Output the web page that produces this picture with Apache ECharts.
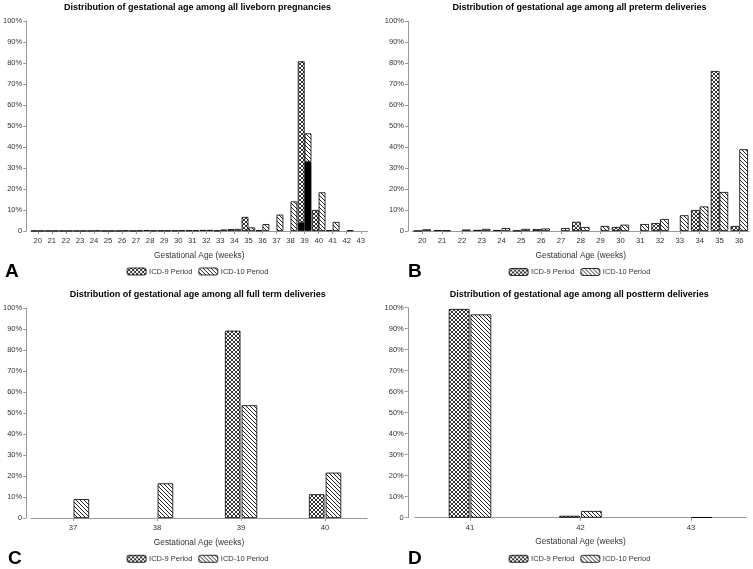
<!DOCTYPE html>
<html><head><meta charset="utf-8">
<script src="https://cdn.jsdelivr.net/npm/echarts@6/dist/echarts.min.js"></script>
<style>html,body{margin:0;padding:0;background:#fff}#c{width:753px;height:569px}</style>
</head><body><div id="c"></div>
<script>
// ---------- data ----------
const catsA = ['20','21','22','23','24','25','26','27','28','29','30','31','32','33','34','35','36','37','38','39','40','41','42','43'];
const icd9A  = [0.1,0.1,0.1,0.1,0.1,0.1,0.1,0.1,0.4,0.2,0.2,0.3,0.5,0.2,0.9,6.7,0.3,0,0,80.8,10.0,0.4,0,0];
const icd10A = [0.1,0.1,0.1,0.1,0.2,0.1,0.2,0.2,0.2,0.2,0.3,0.3,0.5,0.7,1.0,1.7,3.3,7.8,14.1,46.5,18.4,4.3,0.3,0];
const black9A  = ['-','-','-','-','-','-','-','-','-','-','-','-','-','-','-','-','-','-','-',4.0,'-','-','-','-'];
const black10A = ['-','-','-','-','-','-','-','-','-','-','-','-','-','-','-','-','-','-','-',33.0,'-','-','-','-'];

const catsB = ['20','21','22','23','24','25','26','27','28','29','30','31','32','33','34','35','36'];
const icd9B  = [0.1,0.4,0,0.5,0.4,0.2,0.9,0,4.4,0,1.9,0,3.8,0,10.0,76.3,2.4];
const icd10B = [0.8,0.3,0.7,1.0,1.4,1.0,1.2,1.4,1.9,2.4,3.0,3.3,5.7,7.5,11.7,18.6,39.0];

const catsC = ['37','38','39','40'];
const icd9C  = [0,0,89.2,11.3];
const icd10C = [9.0,16.5,53.7,21.6];

const catsD = ['41','42','43'];
const icd9D  = [99.4,0.9,0];
const icd10D = [96.8,3.2,0.2];

const yTicks = [0,10,20,30,40,50,60,70,80,90,100];
const titles = [
  'Distribution of gestational age among all liveborn pregnancies',
  'Distribution of gestational age among all preterm deliveries',
  'Distribution of gestational age among all full term deliveries',
  'Distribution of gestational age among all postterm deliveries'
];
const panelLetters = ['A','B','C','D'];
const S9 = 'ICD-9 Period', S10 = 'ICD-10 Period';

// ---------- patterns ----------
function makePattern(kind){
  const c = document.createElement('canvas');
  c.width = 4; c.height = 4;
  const ctx = c.getContext('2d');
  ctx.fillStyle = '#fff'; ctx.fillRect(0,0,4,4);
  ctx.fillStyle = kind==='cross' ? '#333' : '#222';
  for (let i=0;i<4;i++){
    ctx.fillRect(i,i,1,1);
    if (kind==='cross') ctx.fillRect(3-i,i,1,1);
  }
  return {image:c, repeat:'repeat'};
}
const crossPat = makePattern('cross');
const hatchPat = makePattern('hatch');
const noZero = arr => arr.map(v => v===0 ? '-' : v);

// ---------- layout ----------
const FONT = 'Liberation Sans, Arial, sans-serif';
const grids = [
  {left:29.6, top:21, width:338.2, height:210},
  {left:412.4, top:21.3, width:336.8, height:209.7},
  {left:29.8, top:308, width:337.3, height:210},
  {left:414.75, top:307.7, width:331.5, height:210}
];
const yOffsets = [4.6, 4.4, 4.8, 7];
const cats = [catsA, catsB, catsC, catsD];
const titlePos = [[197.5,3.5],[579.5,3.5],[197.8,290.5],[579.3,290.5]];
const legendPos = [[126.7,267.5],[508.7,268],[126.7,554.8],[508.7,554.8]];
const letterPos = [[5,262],[408,262],[8,549],[408,549]];
const barW = [6.8, 8.7, 15.5, 20.7];
const barGaps = ['0%','0%','8%','5%'];

const border = {borderColor:'#000', borderWidth:0.8};

const xAxes = cats.map((c,i)=>({
  gridIndex:i, type:'category', data:c,
  name:'Gestational Age (weeks)', nameLocation:'middle', nameGap:20.5,
  nameTextStyle:{fontFamily:FONT, fontSize:8.3, color:'#333'},
  axisLine:{lineStyle:{color:'#999', width:1}},
  axisTick:{show:true, alignWithLabel:true, length:3, lineStyle:{color:'#999'}},
  axisLabel:{fontFamily:FONT, fontSize:7.7, color:'#333', margin:6, interval:0}
}));
const yAxes = cats.map((c,i)=>({
  gridIndex:i, type:'value', min:yTicks[0], max:yTicks[yTicks.length-1], interval:10,
  offset:yOffsets[i],
  axisLine:{show:true, lineStyle:{color:'#999', width:1}},
  axisTick:{show:true, length:3, lineStyle:{color:'#999'}},
  splitLine:{show:false},
  axisLabel:{fontFamily:FONT, fontSize:7.5, color:'#333', margin:4,
    formatter:v=> v===0 ? '0' : v+'%'}
}));

const series = [];
// Panel A (stacked with black segment)
const rest9A = icd9A.map((v,k)=> typeof black9A[k]==='number' ? +(v-black9A[k]).toFixed(2) : v);
const rest10A = icd10A.map((v,k)=> typeof black10A[k]==='number' ? +(v-black10A[k]).toFixed(2) : v);
series.push({type:'bar', name:'black9', xAxisIndex:0, yAxisIndex:0, stack:'s9', data:black9A,
  barWidth:barW[0], barGap:barGaps[0], itemStyle:Object.assign({color:'#000'},border), silent:true});
series.push({type:'bar', name:S9, xAxisIndex:0, yAxisIndex:0, stack:'s9', data:noZero(rest9A),
  barWidth:barW[0], barGap:barGaps[0], itemStyle:Object.assign({color:crossPat},border)});
series.push({type:'bar', name:'black10', xAxisIndex:0, yAxisIndex:0, stack:'s10', data:black10A,
  barWidth:barW[0], barGap:barGaps[0], itemStyle:Object.assign({color:'#000'},border), silent:true});
series.push({type:'bar', name:S10, xAxisIndex:0, yAxisIndex:0, stack:'s10', data:noZero(rest10A),
  barWidth:barW[0], barGap:barGaps[0], itemStyle:Object.assign({color:hatchPat},border)});
// Panels B-D
[[icd9B,icd10B],[icd9C,icd10C],[icd9D,icd10D]].forEach((pair,j)=>{
  const i=j+1;
  series.push({type:'bar', name:S9, xAxisIndex:i, yAxisIndex:i, data:noZero(pair[0]),
    barWidth:barW[i], barGap:barGaps[i], itemStyle:Object.assign({color:crossPat},border)});
  series.push({type:'bar', name:S10, xAxisIndex:i, yAxisIndex:i, data:noZero(pair[1]),
    barWidth:barW[i], barGap:barGaps[i], itemStyle:Object.assign({color:hatchPat},border)});
});

const option = {
  animation:false,
  backgroundColor:'#fff',
  title: titles.map((t,i)=>({text:t, left:titlePos[i][0], top:titlePos[i][1], textAlign:'center', padding:0,
    textStyle:{fontFamily:FONT, fontSize:9, fontWeight:'bold', color:'#000'}})),
  legend: legendPos.map(p=>({data:[S9,S10], left:p[0], top:p[1], padding:0, itemGap:6,
    itemWidth:19, itemHeight:7, selectedMode:false,
    itemStyle:{borderColor:'#000', borderWidth:0.8},
    textStyle:{fontFamily:FONT, fontSize:7.5, color:'#333', padding:[0,0,0,-2]}})),
  grid: grids,
  xAxis: xAxes,
  yAxis: yAxes,
  graphic: panelLetters.map((L,i)=>({type:'text', left:letterPos[i][0], top:letterPos[i][1],
    style:{text:L, font:'bold 19px '+FONT, fill:'#000'}})),
  series: series
};
const chart = echarts.init(document.getElementById('c'), null, {renderer:'canvas'});
chart.setOption(option);
</script></body></html>
